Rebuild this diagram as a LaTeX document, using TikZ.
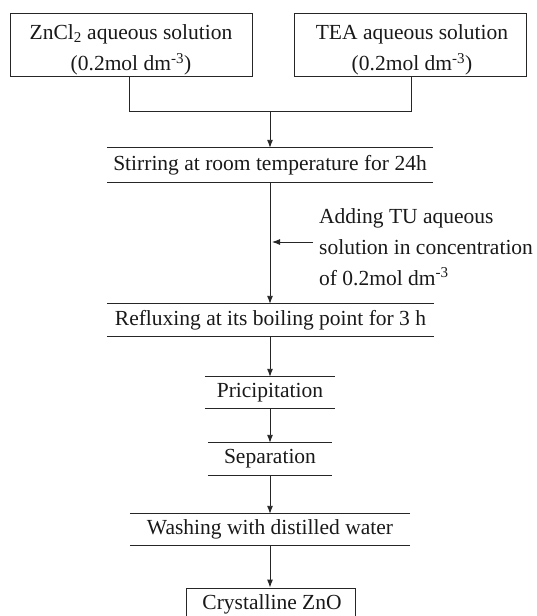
\documentclass[tikz,border=0pt]{standalone}
\usepackage{fontspec}
\setmainfont{Liberation Serif}
\usetikzlibrary{arrows.meta}
\begin{document}
\begin{tikzpicture}[x=1pt,y=-1pt,
  every node/.style={font=\fontsize{21.5}{31}\selectfont, text=black!90},
  boxnode/.style={draw=black!85, line width=0.9pt, inner sep=0pt},
  boxtext/.style={align=center, inner sep=0pt},
  stepnode/.style={inner sep=0pt, align=center},
  rule/.style={draw=black!85, line width=0.9pt},
  link/.style={draw=black!85, line width=0.9pt},
  arr/.style={link, -{Latex[length=8pt,width=6pt]}}]
\useasboundingbox (0,0) rectangle (536,616);
% input boxes
\node[boxnode, minimum width=242pt, minimum height=63pt] (lb) at (131,44.5) {};
\node[boxtext] (lbt) at (131,50) {ZnCl\textsubscript{2} aqueous solution\\(0.2mol dm\textsuperscript{-3})};
\node[boxnode, minimum width=232pt, minimum height=63pt] (rb) at (410,44.5) {};
\node[boxtext] (rbt) at (412,50) {TEA aqueous solution\\(0.2mol dm\textsuperscript{-3})};
% steps
\node[stepnode, minimum width=325pt, minimum height=34pt] (s1) at (270,165) {Stirring at room temperature for 24h};
\node[stepnode, minimum width=327pt, minimum height=32pt] (s2) at (270.5,320) {Refluxing at its boiling point for 3 h};
\node[stepnode, minimum width=130pt, minimum height=31pt] (s3) at (270,392.5) {Pricipitation};
\node[stepnode, minimum width=124pt, minimum height=32pt] (s4) at (270,459) {Separation};
\node[stepnode, minimum width=280pt, minimum height=31pt] (s5) at (270,529.5) {Washing with distilled water};
\node[boxnode, minimum width=169pt, minimum height=38pt] (s6) at (270.5,607) {};
\node[boxtext] (s6t) at (272,604.5) {Crystalline ZnO};
% rules above and below steps
\foreach \n in {s1,s2,s3,s4,s5}{
  \draw[rule] (\n.north west) -- (\n.north east);
  \draw[rule] (\n.south west) -- (\n.south east);
}
% side note
\node[anchor=north west, align=left, inner sep=0pt] (add) at (319,208)
  {Adding TU aqueous\\solution in concentration\\of 0.2mol dm\textsuperscript{-3}};
\coordinate (merge) at (270,111);
\coordinate (addS) at (313,242);
\coordinate (addE) at (272,242);
% connectors
\draw[link] (lb.south -| 129,0) -- (129,111) -- (411,111) -- (rb.south -| 411,0);
\draw[arr] (merge) -- (s1.north -| merge);
\draw[arr] (s1.south -| merge) -- (s2.north -| merge);
\draw[arr] (addS) -- (addE);
\draw[arr] (s2.south -| merge) -- (s3.north -| merge);
\draw[arr] (s3.south -| merge) -- (s4.north -| merge);
\draw[arr] (s4.south -| merge) -- (s5.north -| merge);
\draw[arr] (s5.south -| merge) -- (s6.north -| merge);
\end{tikzpicture}
\end{document}
